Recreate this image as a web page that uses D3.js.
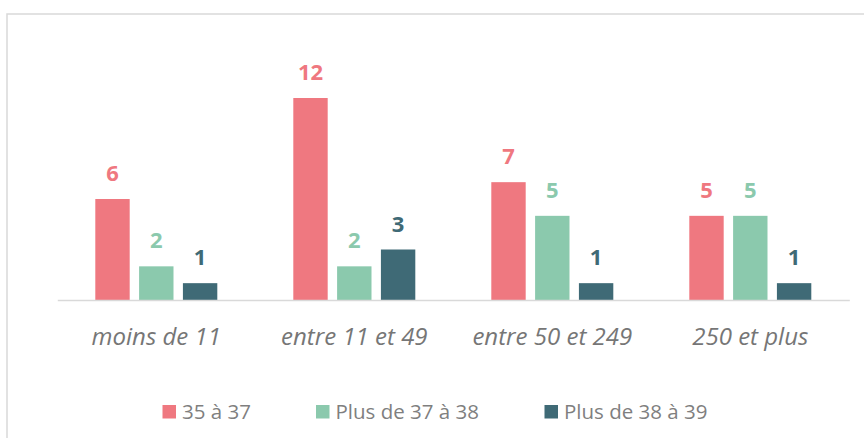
<!DOCTYPE html>
<html>
<head>
<meta charset="utf-8">
<script src="https://cdn.jsdelivr.net/npm/d3@7"></script>
<style>
  html, body { margin: 0; padding: 0; background: #fff; }
  svg { display: block; }
</style>
</head>
<body>
<svg id="chart" width="864" height="438"></svg>
<script>
const categories = ["moins de 11", "entre 11 et 49", "entre 50 et 249", "250 et plus"];
const seriesNames = ["35 à 37", "Plus de 37 à 38", "Plus de 38 à 39"];
const serie1 = [6, 12, 7, 5];
const serie2 = [2, 2, 5, 5];
const serie3 = [1, 3, 1, 1];
const colors = ["#EF7880", "#8BC9AD", "#3F6A76"];

const values = [serie1, serie2, serie3];
const svg = d3.select("#chart");

// frame
svg.append("rect")
  .attr("x", 7).attr("y", 14)
  .attr("width", 900).attr("height", 500)
  .attr("fill", "none").attr("stroke", "#d9d9d9").attr("stroke-width", 1.5);

const x0 = d3.scaleBand().domain(categories).range([57.3, 849.3]).paddingInner(0).paddingOuter(0);
const x1 = d3.scaleBand().domain(seriesNames).range([38, 160]).paddingInner(0.215).paddingOuter(0);
const y = d3.scaleLinear().domain([0, 12]).range([300, 98]);

const g = svg.append("g");

seriesNames.forEach((s, si) => {
  const grp = g.append("g");
  const data = categories.map((c, ci) => ({c, v: values[si][ci]}));
  grp.selectAll("rect")
    .data(data)
    .join("rect")
    .attr("x", d => x0(d.c) + x1(s))
    .attr("y", d => y(d.v))
    .attr("width", x1.bandwidth())
    .attr("height", d => y(0) - y(d.v))
    .attr("fill", colors[si]);
  grp.selectAll("text")
    .data(data)
    .join("text")
    .attr("x", d => x0(d.c) + x1(s) + x1.bandwidth() / 2)
    .attr("y", d => y(d.v) - 18)
    .attr("text-anchor", "middle")
    .attr("font-family", "'Open Sans', sans-serif")
    .attr("font-weight", "bold")
    .attr("font-size", 22)
    .attr("fill", colors[si])
    .text(d => d.v);
});

// axis
const xAxis = d3.axisBottom(x0).tickSize(0).tickPadding(0);
const ax = svg.append("g").attr("transform", `translate(0,${y(0)})`).call(xAxis);
ax.select(".domain").attr("stroke", "#d9d9d9").attr("stroke-width", 1.5);
ax.selectAll(".tick text")
  .attr("dy", 0)
  .attr("y", 45)
  .attr("font-family", "'Open Sans', sans-serif")
  .attr("font-style", "italic")
  .attr("font-size", 24)
  .attr("fill", "#767676");

// legend
const legendX = [162.5, 316, 544.5];
const lg = svg.append("g");
seriesNames.forEach((s, i) => {
  lg.append("rect")
    .attr("x", legendX[i]).attr("y", 405)
    .attr("width", 13.5).attr("height", 13.5)
    .attr("fill", colors[i]);
  lg.append("text")
    .attr("x", legendX[i] + 19.5).attr("y", 418.7)
    .attr("font-family", "'Open Sans', sans-serif")
    .attr("font-size", 20.5)
    .attr("fill", "#7f7f7f")
    .text(s);
});
</script>
</body>
</html>
